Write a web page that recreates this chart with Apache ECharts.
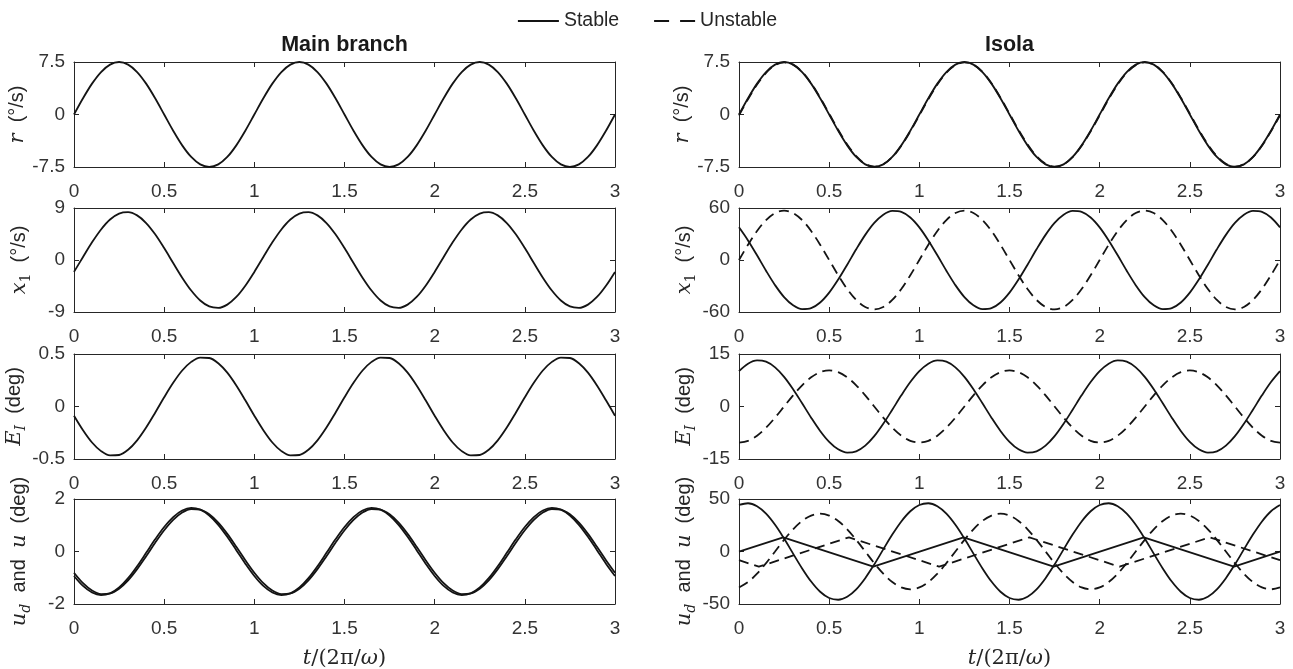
<!DOCTYPE html>
<html><head><meta charset="utf-8">
<script src="https://cdn.jsdelivr.net/npm/echarts@6/dist/echarts.min.js"></script>
<style>html,body{margin:0;padding:0;background:#fff}#c{width:1293px;height:669px}</style>
</head><body><div id="c"></div>
<script>
// ---- data ----
const tickX = [0, 0.5, 1, 1.5, 2, 2.5, 3];
const t = [0,0.05,0.1,0.15,0.2,0.25,0.3,0.35,0.4,0.45,0.5,0.55,0.6,0.65,0.7,0.75,0.8,0.85,0.9,0.95,
 1,1.05,1.1,1.15,1.2,1.25,1.3,1.35,1.4,1.45,1.5,1.55,1.6,1.65,1.7,1.75,1.8,1.85,1.9,1.95,
 2,2.05,2.1,2.15,2.2,2.25,2.3,2.35,2.4,2.45,2.5,2.55,2.6,2.65,2.7,2.75,2.8,2.85,2.9,2.95,3];

// Main branch
const mainR = [0,2.32,4.41,6.07,7.13,7.5,7.13,6.07,4.41,2.32,0,-2.32,-4.41,-6.07,-7.13,-7.5,-7.13,-6.07,-4.41,-2.32,
 0,2.32,4.41,6.07,7.13,7.5,7.13,6.07,4.41,2.32,0,-2.32,-4.41,-6.07,-7.13,-7.5,-7.13,-6.07,-4.41,-2.32,
 0,2.32,4.41,6.07,7.13,7.5,7.13,6.07,4.41,2.32,0,-2.32,-4.41,-6.07,-7.13,-7.5,-7.13,-6.07,-4.41,-2.32,0];
const mainX1 = [-2.06,0.52,3.06,5.29,7.01,8.04,8.28,7.72,6.40,4.45,2.06,-0.52,-3.06,-5.29,-7.01,-8.04,-8.28,-7.72,-6.40,-4.45,
 -2.06,0.52,3.06,5.29,7.01,8.04,8.28,7.72,6.40,4.45,2.06,-0.52,-3.06,-5.29,-7.01,-8.04,-8.28,-7.72,-6.40,-4.45,
 -2.06,0.52,3.06,5.29,7.01,8.04,8.28,7.72,6.40,4.45,2.06,-0.52,-3.06,-5.29,-7.01,-8.04,-8.28,-7.72,-6.40,-4.45,-2.06];
const mainE = [-0.088,-0.226,-0.343,-0.425,-0.466,-0.462,-0.412,-0.322,-0.200,-0.059,0.088,0.226,0.343,0.425,0.466,0.462,0.412,0.322,0.200,0.059,
 -0.088,-0.226,-0.343,-0.425,-0.466,-0.462,-0.412,-0.322,-0.200,-0.059,0.088,0.226,0.343,0.425,0.466,0.462,0.412,0.322,0.200,0.059,
 -0.088,-0.226,-0.343,-0.425,-0.466,-0.462,-0.412,-0.322,-0.200,-0.059,0.088,0.226,0.343,0.425,0.466,0.462,0.412,0.322,0.200,0.059,-0.088];
const mainUd = [-0.933,-1.312,-1.562,-1.659,-1.594,-1.373,-1.017,-0.562,-0.052,0.463,0.933,1.312,1.562,1.659,1.594,1.373,1.017,0.562,0.052,-0.463,
 -0.933,-1.312,-1.562,-1.659,-1.594,-1.373,-1.017,-0.562,-0.052,0.463,0.933,1.312,1.562,1.659,1.594,1.373,1.017,0.562,0.052,-0.463,
 -0.933,-1.312,-1.562,-1.659,-1.594,-1.373,-1.017,-0.562,-0.052,0.463,0.933,1.312,1.562,1.659,1.594,1.373,1.017,0.562,0.052,-0.463,-0.933];
const mainU = [-0.808,-1.206,-1.486,-1.620,-1.596,-1.416,-1.097,-0.671,-0.179,0.331,0.808,1.206,1.486,1.620,1.596,1.416,1.097,0.671,0.179,-0.331,
 -0.808,-1.206,-1.486,-1.620,-1.596,-1.416,-1.097,-0.671,-0.179,0.331,0.808,1.206,1.486,1.620,1.596,1.416,1.097,0.671,0.179,-0.331,
 -0.808,-1.206,-1.486,-1.620,-1.596,-1.416,-1.097,-0.671,-0.179,0.331,0.808,1.206,1.486,1.620,1.596,1.416,1.097,0.671,0.179,-0.331,-0.808];

// Isola
const isoRS = [0,2.32,4.41,6.07,7.13,7.5,7.13,6.07,4.41,2.32,0,-2.32,-4.41,-6.07,-7.13,-7.5,-7.13,-6.07,-4.41,-2.32,
 0,2.32,4.41,6.07,7.13,7.5,7.13,6.07,4.41,2.32,0,-2.32,-4.41,-6.07,-7.13,-7.5,-7.13,-6.07,-4.41,-2.32,
 0,2.32,4.41,6.07,7.13,7.5,7.13,6.07,4.41,2.32,0,-2.32,-4.41,-6.07,-7.13,-7.5,-7.13,-6.07,-4.41,-2.32,0];
const isoRU = [-0.12,2.19,4.28,5.96,7.05,7.45,7.12,6.09,4.47,2.41,0.12,-2.19,-4.28,-5.96,-7.05,-7.45,-7.12,-6.09,-4.47,-2.41,
 -0.12,2.19,4.28,5.96,7.05,7.45,7.12,6.09,4.47,2.41,0.12,-2.19,-4.28,-5.96,-7.05,-7.45,-7.12,-6.09,-4.47,-2.41,
 -0.12,2.19,4.28,5.96,7.05,7.45,7.12,6.09,4.47,2.41,0.12,-2.19,-4.28,-5.96,-7.05,-7.45,-7.12,-6.09,-4.47,-2.41,-0.12];
const isoX1S = [37.7,22.6,5.4,-12.4,-29.0,-42.8,-52.3,-56.7,-55.6,-49.1,-37.7,-22.6,-5.4,12.4,29.0,42.8,52.3,56.7,55.6,49.1,
 37.7,22.6,5.4,-12.4,-29.0,-42.8,-52.3,-56.7,-55.6,-49.1,-37.7,-22.6,-5.4,12.4,29.0,42.8,52.3,56.7,55.6,49.1,
 37.7,22.6,5.4,-12.4,-29.0,-42.8,-52.3,-56.7,-55.6,-49.1,-37.7,-22.6,-5.4,12.4,29.0,42.8,52.3,56.7,55.6,49.1,37.7];
const isoX1U = [0,17.6,33.5,46.1,54.2,57,54.2,46.1,33.5,17.6,0,-17.6,-33.5,-46.1,-54.2,-57,-54.2,-46.1,-33.5,-17.6,
 0,17.6,33.5,46.1,54.2,57,54.2,46.1,33.5,17.6,0,-17.6,-33.5,-46.1,-54.2,-57,-54.2,-46.1,-33.5,-17.6,
 0,17.6,33.5,46.1,54.2,57,54.2,46.1,33.5,17.6,0,-17.6,-33.5,-46.1,-54.2,-57,-54.2,-46.1,-33.5,-17.6,0];
const isoES = [10.11,12.24,13.17,12.81,11.19,8.48,4.94,0.92,-3.19,-6.99,-10.11,-12.24,-13.17,-12.81,-11.19,-8.48,-4.94,-0.92,3.19,6.99,
 10.11,12.24,13.17,12.81,11.19,8.48,4.94,0.92,-3.19,-6.99,-10.11,-12.24,-13.17,-12.81,-11.19,-8.48,-4.94,-0.92,3.19,6.99,
 10.11,12.24,13.17,12.81,11.19,8.48,4.94,0.92,-3.19,-6.99,-10.11,-12.24,-13.17,-12.81,-11.19,-8.48,-4.94,-0.92,3.19,6.99,10.11];
const isoEU = [-10.3,-9.80,-8.33,-6.06,-3.18,0,3.18,6.06,8.33,9.80,10.3,9.80,8.33,6.06,3.18,0,-3.18,-6.06,-8.33,-9.80,
 -10.3,-9.80,-8.33,-6.06,-3.18,0,3.18,6.06,8.33,9.80,10.3,9.80,8.33,6.06,3.18,0,-3.18,-6.06,-8.33,-9.80,
 -10.3,-9.80,-8.33,-6.06,-3.18,0,3.18,6.06,8.33,9.80,10.3,9.80,8.33,6.06,3.18,0,-3.18,-6.06,-8.33,-9.80,-10.3];
const isoUdS = [44.3,45.96,43.09,36.0,25.39,12.29,-2.01,-16.11,-28.64,-38.36,-44.3,-45.96,-43.09,-36.0,-25.39,-12.29,2.01,16.11,28.64,38.36,
 44.3,45.96,43.09,36.0,25.39,12.29,-2.01,-16.11,-28.64,-38.36,-44.3,-45.96,-43.09,-36.0,-25.39,-12.29,2.01,16.11,28.64,38.36,
 44.3,45.96,43.09,36.0,25.39,12.29,-2.01,-16.11,-28.64,-38.36,-44.3,-45.96,-43.09,-36.0,-25.39,-12.29,2.01,16.11,28.64,38.36,44.3];
const isoUdU = [-34.24,-29.12,-21.17,-11.12,0,11.12,21.17,29.12,34.24,36,34.24,29.12,21.17,11.12,0,-11.12,-21.17,-29.12,-34.24,-36,
 -34.24,-29.12,-21.17,-11.12,0,11.12,21.17,29.12,34.24,36,34.24,29.12,21.17,11.12,0,-11.12,-21.17,-29.12,-34.24,-36,
 -34.24,-29.12,-21.17,-11.12,0,11.12,21.17,29.12,34.24,36,34.24,29.12,21.17,11.12,0,-11.12,-21.17,-29.12,-34.24,-36,-34.24];
const isoUS_t = [0, 0.245, 0.745, 1.245, 1.745, 2.245, 2.745, 3];
const isoUS   = [-0.2, 13.5, -14.5, 13.5, -14.5, 13.5, -14.5, -0.2];
const isoUU_t = [0, 0.11, 0.61, 1.11, 1.61, 2.11, 2.61, 3];
const isoUU   = [-8.3, -14.5, 13.5, -14.5, 13.5, -14.5, 13.5, -8.3];

const yLimits = [[7.5, 7.5], [9, 60], [0.5, 15], [2, 50]]; // [main, isola]
const titles = ['Main branch', 'Isola'];
const legendNames = ['Stable', 'Unstable'];
const yNames = [
  '{i|r}{s|  (°/s)}',
  '{i|x}{sub|1}{s|  (°/s)}',
  '{i|E}{subi|I}{s|  (deg)}',
  '{i|u}{subi|d}{s|  and  }{i|u}{s|  (deg)}'
];
const xName = '{i|t}{r|/(2π/}{i|ω}{r|)}';

// ---- layout / style ----
const AX = '#262626', LBL = '#333333', LINE = '#141414';
const colLeft = [74, 739], gridW = 541;
const rowTop = [62, 208, 354, 499], rowH = [105, 104, 105, 105];
const zip = (xs, ys) => xs.map((x, i) => [x, ys[i]]);

const panels = [
  {c:0,r:0, lines:[[t, mainR, 0, true]]},
  {c:0,r:1, lines:[[t, mainX1, 0, true]]},
  {c:0,r:2, lines:[[t, mainE, 0, true]]},
  {c:0,r:3, lines:[[t, mainUd, 0, true],[t, mainU, 0, true]]},
  {c:1,r:0, lines:[[t, isoRU, 1, true],[t, isoRS, 0, true]]},
  {c:1,r:1, lines:[[t, isoX1U, 1, true],[t, isoX1S, 0, true]]},
  {c:1,r:2, lines:[[t, isoEU, 1, true],[t, isoES, 0, true]]},
  {c:1,r:3, lines:[[t, isoUdU, 1, true],[isoUU_t, isoUU, 1, false],[t, isoUdS, 0, true],[isoUS_t, isoUS, 0, false]]}
];

const richName = {
  i: {fontFamily:'DejaVu Serif', fontStyle:'italic', fontSize:21, color:AX},
  s: {fontFamily:'Liberation Sans, Arial', fontSize:20, color:AX},
  sub: {fontFamily:'DejaVu Serif', fontSize:14, color:AX, padding:[13,0,0,0]},
  subi: {fontFamily:'DejaVu Serif', fontStyle:'italic', fontSize:14, color:AX, padding:[13,0,0,0]},
  r: {fontFamily:'DejaVu Serif', fontSize:21, color:AX}
};

const grid = [], xAxis = [], yAxis = [], series = [];
panels.forEach((p, gi) => {
  const lim = yLimits[p.r][p.c];
  grid.push({left: colLeft[p.c], top: rowTop[p.r], width: gridW, height: rowH[p.r], outerBoundsMode: 'none', containLabel: false});
  const tickCommon = {show: true, inside: true, length: 5, lineStyle: {color: AX, width: 1}};
  const lineCommon = {show: true, onZero: false, lineStyle: {color: AX, width: 1}};
  xAxis.push({
    type: 'value', gridIndex: gi, position: 'bottom', min: tickX[0], max: tickX[tickX.length-1], interval: 0.5,
    axisLine: lineCommon, axisTick: tickCommon, splitLine: {show: false},
    axisLabel: {show: true, margin: 15, color: LBL, fontSize: 19, fontFamily: 'Liberation Sans, Arial'},
    name: p.r === 3 ? xName : '', nameLocation: 'middle', nameGap: 44,
    nameTextStyle: {rich: richName}
  });
  xAxis.push({
    type: 'value', gridIndex: gi, position: 'top', min: tickX[0], max: tickX[tickX.length-1], interval: 0.5,
    axisLine: lineCommon, axisTick: tickCommon, splitLine: {show: false}, axisLabel: {show: false}
  });
  yAxis.push({
    type: 'value', gridIndex: gi, position: 'left', min: -lim, max: lim, interval: lim,
    axisLine: lineCommon, axisTick: tickCommon, splitLine: {show: false},
    axisLabel: {show: true, margin: 9, color: LBL, fontSize: 19, fontFamily: 'Liberation Sans, Arial'},
    name: yNames[p.r], nameLocation: 'middle', nameRotate: 90, nameGap: 41,
    nameTextStyle: {rich: richName}
  });
  yAxis.push({
    type: 'value', gridIndex: gi, position: 'right', min: -lim, max: lim, interval: lim,
    axisLine: lineCommon, axisTick: tickCommon, splitLine: {show: false}, axisLabel: {show: false}
  });
  p.lines.forEach(([xs, ys, kind, smooth]) => {
    series.push({
      type: 'line', name: legendNames[kind], xAxisIndex: gi*2, yAxisIndex: gi*2,
      data: zip(xs, ys), smooth: smooth ? 0.33 : false, symbol: 'none', showSymbol: false,
      lineStyle: {color: LINE, width: 1.8, type: kind === 1 ? [10, 6] : 'solid'},
      itemStyle: {color: LINE}, animation: false, silent: true, z: kind === 1 ? 2 : 3
    });
  });
});

const chart = echarts.init(document.getElementById('c'), null, {renderer: 'canvas'});
chart.setOption({
  backgroundColor: '#ffffff',
  animation: false,
  grid, xAxis, yAxis, series,
  legend: {
    left: 517, top: 11, padding: 0, itemGap: 34, itemWidth: 41, itemHeight: 14,
    textStyle: {fontSize: 19.5, color: AX, fontFamily: 'Liberation Sans, Arial'},
    itemStyle: {color: 'rgba(0,0,0,0)', borderWidth: 0, opacity: 0},
    data: [
      {name: legendNames[0], lineStyle: {type: 'solid', width: 1.8, color: LINE}},
      {name: legendNames[1], lineStyle: {type: [15, 11], width: 1.8, color: LINE}}
    ],
    selectedMode: false
  },
  graphic: titles.map((txt, i) => ({
    type: 'text', x: colLeft[i] + gridW/2, y: 45,
    style: {text: txt, fill: '#1a1a1a', font: 'bold 21.5px "Liberation Sans", Arial', textAlign: 'center', align: 'center', textVerticalAlign: 'middle', verticalAlign: 'middle'}
  }))
});
</script>
</body></html>
